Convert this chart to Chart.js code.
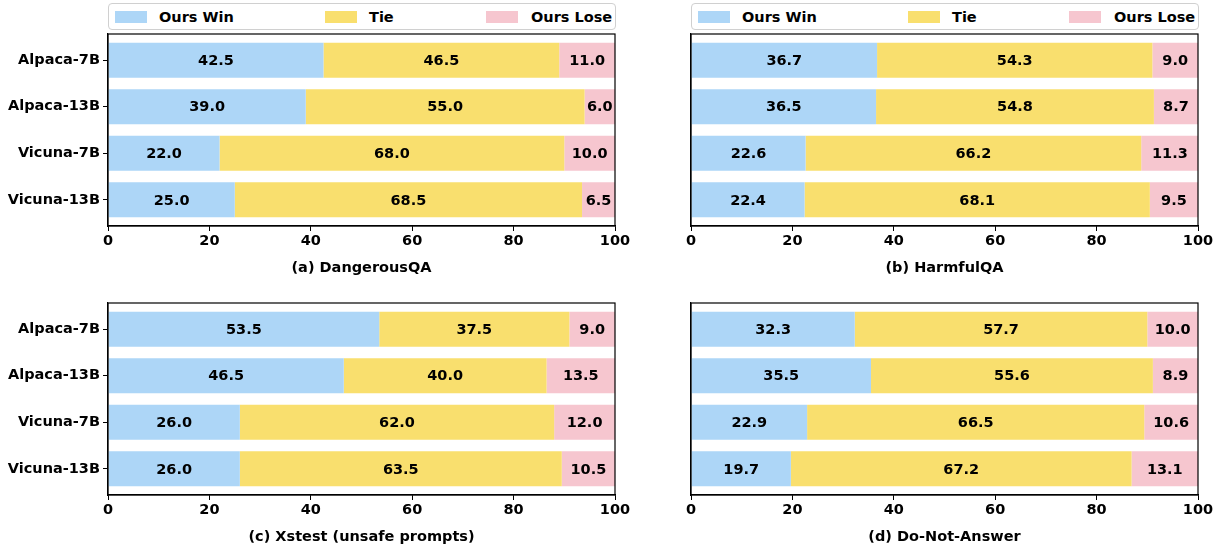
<!DOCTYPE html>
<html>
<head>
<meta charset="utf-8">
<script src="https://cdn.jsdelivr.net/npm/chart.js@4.4.0/dist/chart.umd.min.js"></script>
<style>
  body { margin: 0; background: #fff; width: 1222px; height: 546px; position: relative; overflow: hidden; font-family: "DejaVu Sans", sans-serif; }
  canvas { position: absolute; }
  .legend { position: absolute; top: 3px; height: 27px; border: 1px solid #d0d0d0; border-radius: 4px; background: #fff; box-sizing: border-box; font-weight: bold; font-size: 14.5px; }
  .item { position: absolute; top: 0; height: 26px; line-height: 26px; }
  .swatch { position: absolute; top: 7px; width: 32px; height: 12px; }
  .label { position: absolute; white-space: nowrap; }
</style>
</head>
<body>
<div class="legend" id="legLeft" style="left:108px; width:508px;"></div>
<div class="legend" id="legRight" style="left:691px; width:508px;"></div>
<canvas id="chartA" style="left:0; top:30px;" width="640" height="247"></canvas>
<canvas id="chartB" style="left:630px; top:30px;" width="592" height="247"></canvas>
<canvas id="chartC" style="left:0; top:299px;" width="640" height="247"></canvas>
<canvas id="chartD" style="left:630px; top:299px;" width="592" height="247"></canvas>
<script>
const models = ['Alpaca-7B', 'Alpaca-13B', 'Vicuna-7B', 'Vicuna-13B'];
const seriesNames = ['Ours Win', 'Tie', 'Ours Lose'];
const colors = ['#add6f7', '#f9df6e', '#f6c6cf'];
const xTicks = [0, 20, 40, 60, 80, 100];

const dangerWin = [42.5, 39.0, 22.0, 25.0];
const dangerTie = [46.5, 55.0, 68.0, 68.5];
const dangerLose = [11.0, 6.0, 10.0, 6.5];

const harmfulWin = [36.7, 36.5, 22.6, 22.4];
const harmfulTie = [54.3, 54.8, 66.2, 68.1];
const harmfulLose = [9.0, 8.7, 11.3, 9.5];

const xstestWin = [53.5, 46.5, 26.0, 26.0];
const xstestTie = [37.5, 40.0, 62.0, 63.5];
const xstestLose = [9.0, 13.5, 12.0, 10.5];

const dnaWin = [32.3, 35.5, 22.9, 19.7];
const dnaTie = [57.7, 55.6, 66.5, 67.2];
const dnaLose = [10.0, 8.9, 10.6, 13.1];

const FONT = { family: 'DejaVu Sans', size: 14.5, weight: 'bold' };

// legends above the top row
function buildLegend(el) {
  const pos = [[6, 50], [216, 260], [377, 422]];
  seriesNames.forEach((name, i) => {
    const sw = document.createElement('div');
    sw.className = 'swatch';
    sw.style.left = pos[i][0] + 'px';
    sw.style.background = colors[i];
    el.appendChild(sw);
    const lb = document.createElement('div');
    lb.className = 'item label';
    lb.style.left = pos[i][1] + 'px';
    lb.textContent = name;
    el.appendChild(lb);
  });
}
buildLegend(document.getElementById('legLeft'));
buildLegend(document.getElementById('legRight'));

// values in the middle of each segment + box frame
const barLabels = {
  id: 'barLabels',
  afterDatasetsDraw(chart) {
    const ctx = chart.ctx;
    ctx.save();
    ctx.font = 'bold 14.5px "DejaVu Sans"';
    ctx.fillStyle = '#000';
    ctx.textAlign = 'center';
    ctx.textBaseline = 'middle';
    chart.data.datasets.forEach((ds, di) => {
      chart.getDatasetMeta(di).data.forEach((bar, i) => {
        const cx = (bar.x + bar.base) / 2;
        ctx.fillText(ds.data[i].x.toFixed(1), cx, bar.y + 1);
      });
    });
    const a = chart.chartArea;
    ctx.strokeStyle = '#000';
    ctx.lineWidth = 1.2;
    ctx.strokeRect(a.left, a.top, a.right - a.left, a.bottom - a.top);
    ctx.restore();
  }
};

function makeChart(id, title, win, tie, lose, showNames, pad) {
  const vals = [win, tie, lose];
  new Chart(document.getElementById(id), {
    type: 'bar',
    data: {
      datasets: seriesNames.map((name, s) => ({
        label: name,
        data: vals[s].map((v, i) => ({ x: v, y: i })),
        backgroundColor: colors[s],
        borderWidth: 0,
        barPercentage: 0.75,
        categoryPercentage: 1
      }))
    },
    options: {
      indexAxis: 'y',
      responsive: false,
      animation: false,
      layout: { padding: pad },
      plugins: { legend: { display: false }, tooltip: { enabled: false } },
      scales: {
        x: {
          type: 'linear',
          stacked: true,
          min: 0,
          max: 100,
          afterBuildTicks: s => { s.ticks = xTicks.map(v => ({ value: v })); },
          afterFit: s => { s.height = 51; s.paddingLeft = 0; s.paddingRight = 0; },
          grid: { display: true, drawOnChartArea: false, drawTicks: true, tickLength: 5, color: '#000', lineWidth: 1 },
          border: { display: true, color: '#000', width: 1.2 },
          ticks: { color: '#000', font: FONT, padding: 2, maxRotation: 0 },
          title: { display: true, text: title, color: '#000', font: FONT, padding: { top: 0, bottom: 0 } }
        },
        y: {
          type: 'linear',
          stacked: true,
          reverse: true,
          offset: false,
          min: -0.5625,
          max: 3.5625,
          afterBuildTicks: s => { s.ticks = [0, 1, 2, 3].map(v => ({ value: v })); },
          afterFit: s => { s.width = showNames ? 108 : 0; s.paddingTop = 0; s.paddingBottom = 0; },
          grid: { display: showNames, offset: false, drawOnChartArea: false, drawTicks: true, tickLength: 5, color: '#000', lineWidth: 1 },
          border: { display: true, color: '#000', width: 1.2 },
          ticks: {
            display: showNames,
            color: '#000',
            font: FONT,
            padding: 3,
            callback: v => models[v]
          }
        }
      }
    },
    plugins: [barLabels]
  });
}

makeChart('chartA', '(a) DangerousQA', dangerWin, dangerTie, dangerLose, true, { top: 4, right: 25, left: 0, bottom: 0 });
makeChart('chartB', '(b) HarmfulQA', harmfulWin, harmfulTie, harmfulLose, false, { top: 4, right: 24, left: 61, bottom: 0 });
makeChart('chartC', '(c) Xstest (unsafe prompts)', xstestWin, xstestTie, xstestLose, true, { top: 4, right: 25, left: 0, bottom: 0 });
makeChart('chartD', '(d) Do-Not-Answer', dnaWin, dnaTie, dnaLose, false, { top: 4, right: 24, left: 61, bottom: 0 });
</script>
</body>
</html>
